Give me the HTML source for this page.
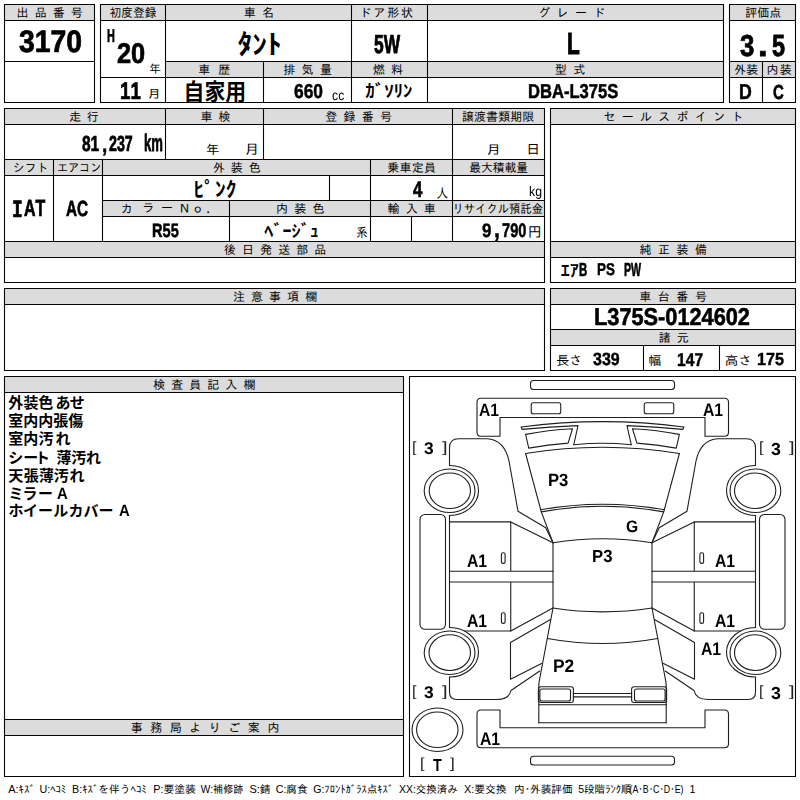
<!DOCTYPE html>
<html lang="ja"><head><meta charset="utf-8"><title>出品票 3170</title>
<style>
html,body{margin:0;padding:0;background:#fff}
body{width:800px;height:800px;position:relative;overflow:hidden;font-family:"Liberation Sans",sans-serif;color:#000}
#sheet{position:absolute;left:0;top:0;width:800px;height:800px}
#txt{position:absolute;left:0;top:0;width:800px;height:800px;will-change:transform}
.t{position:absolute;white-space:nowrap;text-rendering:geometricPrecision;line-height:1;transform-origin:0 0;font-kerning:none;letter-spacing:0;color:#000}
.b{font-weight:700;-webkit-text-stroke:0.024em #000}.ns{-webkit-text-stroke:0}.r{font-weight:400}.m{font-family:"Liberation Mono",monospace;font-weight:700;-webkit-text-stroke:0.024em #000}
#labels text{font-family:"Liberation Sans","IPAGothic","Noto Sans CJK JP",sans-serif;font-size:12px;fill:#000;font-kerning:none}
#labels text.nb{font-family:"Liberation Sans","Noto Sans CJK JP",sans-serif;font-weight:700}
#labels text.n15{font-size:15px}
#labels text.ft{font-size:10.66px}
</style></head><body>
<svg id="sheet" width="800" height="800" viewBox="0 0 800 800">
<g fill="#dcdcdc"><rect x="4.5" y="4.5" width="90" height="16"/><rect x="100.5" y="4.5" width="623" height="16"/><rect x="165.5" y="61.5" width="558" height="16"/><rect x="729.5" y="4.5" width="66" height="16"/><rect x="729.5" y="61.5" width="66" height="16"/><rect x="4.5" y="108.5" width="540" height="16"/><rect x="4.5" y="159.5" width="540" height="16"/><rect x="102.5" y="200.5" width="442" height="16"/><rect x="4.5" y="241.5" width="540" height="16"/><rect x="550.5" y="108.5" width="245" height="16"/><rect x="550.5" y="241.5" width="245" height="16"/><rect x="4.5" y="288.5" width="540" height="16"/><rect x="550.5" y="288.5" width="245" height="16"/><rect x="550.5" y="329.5" width="245" height="16"/><rect x="4.5" y="376.5" width="399" height="16"/><rect x="4.5" y="719.5" width="399" height="16"/></g>
<path fill="none" stroke="#060606" stroke-width="1.08" stroke-linecap="square" d="M4.5 4.5H94.5V102.5H4.5ZM4.5 20.5H94.5M4.5 61.5H94.5M100.5 4.5H723.5V102.5H100.5ZM100.5 20.5H723.5M100.5 77.5H723.5M165.5 61.5H723.5M165.5 4.5V102.5M351.5 4.5V102.5M427.5 4.5V102.5M263.5 61.5V102.5M729.5 4.5H795.5V102.5H729.5ZM729.5 20.5H795.5M729.5 61.5H795.5M729.5 77.5H795.5M762.5 61.5V102.5M4.5 108.5H544.5V282.5H4.5ZM4.5 124.5H544.5M4.5 159.5H544.5M4.5 175.5H544.5M4.5 241.5H544.5M4.5 257.5H544.5M102.5 200.5H544.5M102.5 216.5H544.5M165.5 108.5V159.5M263.5 108.5V159.5M452.5 108.5V241.5M53.5 159.5V241.5M102.5 159.5V241.5M370.5 159.5V241.5M329.5 175.5V200.5M229.5 200.5V241.5M411.5 216.5V241.5M550.5 108.5H795.5V282.5H550.5ZM550.5 124.5H795.5M550.5 241.5H795.5M550.5 257.5H795.5M4.5 288.5H544.5V370.5H4.5ZM4.5 304.5H544.5M550.5 288.5H795.5V370.5H550.5ZM550.5 304.5H795.5M550.5 329.5H795.5M550.5 345.5H795.5M643.5 345.5V370.5M719.5 345.5V370.5M4.5 376.5H403.5V776.5H4.5ZM4.5 392.5H403.5M4.5 719.5H403.5M4.5 735.5H403.5M409.5 376.5H795.5V776.5H409.5Z"/>
<g id="car" fill="none" stroke="#1e1e1e" stroke-width="1.1" stroke-linejoin="round" stroke-linecap="round">
<rect x="530.5" y="380.5" width="144" height="9" rx="3"/>
<rect x="530.5" y="756.25" width="144" height="8.75" rx="3"/>
<path d="M500 417.5H705V436.25H724.5Q728.5 436.25 728.5 432.25V402.25Q728.5 398.25 724.5 398.25H481Q477 398.25 477 402.25V432.25Q477 436.25 481 436.25H500Z"/>
<path d="M500 710V727.75H705V710H724.5Q728.5 710 728.5 714V743.75Q728.5 747.75 724.5 747.75H481Q477 747.75 477 743.75V714Q477 710 481 710Z"/>
<path d="M521.25 427Q602.5 416.2 683.75 427"/>
<path d="M573.75 444.75Q602.5 441.8 631.25 444.75"/>
<path d="M525.6 453.5Q602.5 440.9 679.4 453.5"/>
<path d="M540.5 509.8Q602.5 498.8 664.5 509.8"/>
<path d="M541.3 511.9Q602.5 500.7 663.7 511.9"/>
<path d="M553 542.8Q602.5 534.7 652 542.8V608Q602.5 615.7 553 608Z"/>
<path d="M547.25 638.5Q602.5 648.5 657.75 638.5"/>
<path d="M573.4 693.5H631.6M573.4 696.9H631.6"/>
<path d="M538.8 704.75H666.2M538.8 722.8H666.2"/>
<ellipse cx="437.5" cy="729.75" rx="25.5" ry="21.75"/><ellipse cx="437.3" cy="729.75" rx="20.75" ry="17.75"/>
<g id="half">
<rect x="531.25" y="402.75" width="29.5" height="11" rx="2"/>
<path d="M525.6 434.4Q548 430 572.5 428.75L568.1 443.1Q548 444.5 528.75 448.1Z"/>
<path d="M521.25 427L522 429.4Q550 426.6 578 425.6L573.75 444.75"/>
<path d="M525.6 453.5L541.3 511.9L553 542.8"/>
<path d="M449.5 465.5V447.75Q449.5 438.75 458.75 438.75H487C498 439.5 506 447 509 461L518 511.25L545.75 527.75L553 542.8"/>
<path d="M449.5 465.5A29 25 0 0 1 449.5 515.5"/><ellipse cx="449.6" cy="490.75" rx="25.4" ry="21.75"/><ellipse cx="449.85" cy="490.75" rx="20.65" ry="17.75"/>
<path d="M449.5 627.5A29 24.75 0 0 1 449.5 677"/><ellipse cx="449.6" cy="652.75" rx="25.4" ry="21.75"/><ellipse cx="449.75" cy="652.65" rx="20.75" ry="17.85"/>
<path d="M449.5 515.5V627.5"/>
<rect x="420" y="514.5" width="25.5" height="114.75" rx="5"/>
<path d="M449.5 521.9H510.75V571.25M449.5 571.25H553M449.5 582H553M510.75 582V631H464.6"/>
<path d="M510.75 521.9L553 542.8M510.75 631L553 608"/>
<path d="M553 608L547.25 638.5L539 682.5L538.8 686.6V722.8"/>
<path d="M550.5 619.5L510.5 642.5V679.25L541.5 663.5"/>
<path d="M449.5 677V692Q449.5 699.5 456.75 699.5H497Q509 699.5 511 690.5L539.75 671"/>
<rect x="538.4" y="686.75" width="35" height="15.75" rx="2.5"/><rect x="539.9" y="689" width="30.6" height="12" rx="2"/>
<rect x="501.4" y="552.8" width="3.7" height="10.6" rx="1.7"/><rect x="501.4" y="612.8" width="3.7" height="10.6" rx="1.7"/>
</g>
<use href="#half" transform="matrix(-1 0 0 1 1205 0)"/>
</g>

<g id="labels">
<text x="16.61 34.63 52.66 70.69" y="17.06">出品番号</text>
<text transform="translate(109.46 17.06) scale(0.983 1)">初度登録</text>
<text x="243.72 262.07" y="17.06">車名</text>
<text x="359.47 373.34 387.21 401.09" y="17.06">ドア形状</text>
<text x="538.24 556.56 574.88 593.2" y="17.06">グレード</text>
<text x="745.14 757.19 769.23" y="17.06">評価点</text>
<text x="198.22 218.22" y="73.96">車歴</text>
<text x="283.23 301.58 319.92" y="73.96">排気量</text>
<text x="373.07 391.03" y="73.96">燃料</text>
<text x="554.78 573.14" y="73.96">型式</text>
<text transform="translate(734.28 73.96) scale(0.993 1)">外装</text>
<text x="766.62 779.87" y="73.96">内装</text>
<text x="69.33 86.73" y="121.31">走行</text>
<text x="200.47 218.52" y="121.31">車検</text>
<text x="325.2 343.44 361.69 379.94" y="121.31">登録番号</text>
<text x="461.91 474 486.09 498.17 510.26 522.35" y="121.31">譲渡書類期限</text>
<text x="603.4 621.69 639.99 658.29 676.58 694.88 713.17 731.47" y="121.31">セールスポイント</text>
<text transform="translate(13.1 171.86) scale(0.982 1)">シフト</text>
<text transform="translate(56.89 171.86) scale(0.927 1)">エアコン</text>
<text x="213.02 230.87 248.72" y="171.86">外装色</text>
<text x="387.29 399.51 411.73 423.95" y="171.86">乗車定員</text>
<text transform="translate(469.29 171.86) scale(0.982 1)">最大積載量</text>
<text x="120.86 142.27 161 178.6 191.75 206.35" y="212.84 212.33 211.66 213.11 212.65 212.66">カラーＮｏ．</text>
<text x="276.12 294.29 312.47" y="212.86">内装色</text>
<text x="387.47 405.63 423.79" y="212.86">輸入車</text>
<text transform="translate(452.53 212.86) scale(0.943 1)">リサイクル預託金</text>
<text x="224.03 242.07 260.11 278.15 296.19 314.22" y="254.06">後日発送部品</text>
<text x="639.46 657.94 676.42 694.91" y="254.06">純正装備</text>
<text x="232.94 250.99 269.04 287.1 305.15" y="301.06">注意事項欄</text>
<text x="639.22 657.79 676.36 694.94" y="301.06">車台番号</text>
<text x="658.63 676.7" y="341.96">諸元</text>
<text x="153.15 171.2 189.25 207.3 225.35 243.4" y="389.06">検査員記入欄</text>
<text x="130.65 150.19 169.72 189.26 208.79 228.33 247.86 267.4" y="732.31">事務局よりご案内</text>
<text transform="translate(149.19 73.45) scale(1.012 1)" style="font-size:11.5px">年</text>
<text transform="translate(147.44 98.14) scale(1.143 1)" style="font-size:11.72px">月</text>
<text transform="translate(206.07 154.12) scale(1.059 1)" style="font-size:12.62px">年</text>
<text transform="translate(244.52 154.03) scale(1.127 1)" style="font-size:13.2px">月</text>
<text transform="translate(486.27 154.09) scale(1.208 1)" style="font-size:12.32px">月</text>
<text transform="translate(526.26 154.41) scale(1.042 1)" style="font-size:13.2px">日</text>
<text transform="translate(436.17 198.07) scale(0.904 1)" style="font-size:13.32px">人</text>
<text transform="translate(356.07 236.59) scale(0.897 1)" style="font-size:12.98px">系</text>
<text transform="translate(527.76 236.7) scale(0.983 1)" style="font-size:14.24px">円</text>
<text transform="translate(556.28 365.32) scale(1.003 1)" style="font-size:13px">長さ</text>
<text transform="translate(648.41 365.38) scale(1.018 1)" style="font-size:12.5px">幅</text>
<text transform="translate(724.73 365.38) scale(1.09 1)" style="font-size:12.5px">高さ</text>
<text class="nb" transform="translate(237.39 54.22) scale(1.1 1)" style="font-size:26.88px">ﾀﾝﾄ</text>
<text class="nb" transform="translate(183.57 99.96) scale(0.931 1)" style="font-size:22.38px">自家用</text>
<text class="nb" transform="translate(365.22 97.16) scale(1.111 1)" style="font-size:17.06px">ｶﾞｿﾘﾝ</text>
<text class="nb" transform="translate(193.6 196.61) scale(1.061 1)" style="font-size:20.24px">ﾋﾟﾝｸ</text>
<text class="nb" transform="translate(264.34 236.67) scale(1.102 1)" style="font-size:16.5px">ﾍﾞｰｼﾞｭ</text>
<text class="nb" transform="translate(560.69 275.89) scale(1.17 1)" style="font-size:15.44px">ｴｱ</text>
<text class="nb n15" x="8.21 23.4 38.15 55.39 69.76" y="408.4">外装色あせ</text>
<text class="nb n15" x="8.21 23.32 38.17 53.24 68.21" y="426.3">室内内張傷</text>
<text class="nb n15" x="8.21 23.32 38.43 55.38" y="444.1">室内汚れ</text>
<text class="nb n15" x="8.16 23.13 34.9 56.53 71.28 86" y="462.65">シート薄汚れ</text>
<text class="nb n15" x="8.21 23.64 39.03 53.78 69.38" y="480.5">天張薄汚れ</text>
<text class="nb n15" x="8.49 22.44 38.01" y="498.9">ミラー</text>
<text class="nb n15" x="8.38 23.07 38.01 53.26 68.51 83.39 98.38" y="516.2">ホイールカバー</text>
<text class="ft" x="8.2" y="793.2" textLength="26.7" lengthAdjust="spacingAndGlyphs">A:ｷｽﾞ</text>
<text class="ft" x="39.5" y="793.2" textLength="26.7" lengthAdjust="spacingAndGlyphs">U:ﾍｺﾐ</text>
<text class="ft" x="72" y="793.2" textLength="74.7" lengthAdjust="spacingAndGlyphs">B:ｷｽﾞを伴うﾍｺﾐ</text>
<text class="ft" x="153.2" y="793.2" textLength="42.7" lengthAdjust="spacingAndGlyphs">P:要塗装</text>
<text class="ft" x="200.7" y="793.2" textLength="42.7" lengthAdjust="spacingAndGlyphs">W:補修跡</text>
<text class="ft" x="249.5" y="793.2" textLength="21.3" lengthAdjust="spacingAndGlyphs">S:錆</text>
<text class="ft" x="275.7" y="793.2" textLength="32" lengthAdjust="spacingAndGlyphs">C:腐食</text>
<text class="ft" x="313.2" y="793.2" textLength="80" lengthAdjust="spacingAndGlyphs">G:ﾌﾛﾝﾄｶﾞﾗｽ点ｷｽﾞ</text>
<text class="ft" x="399" y="793.2" textLength="58.7" lengthAdjust="spacingAndGlyphs">XX:交換済み</text>
<text class="ft" x="464" y="793.2" textLength="42.7" lengthAdjust="spacingAndGlyphs">X:要交換</text>
<text class="ft" x="514" y="793.2" textLength="58.7" lengthAdjust="spacingAndGlyphs">内･外装評価</text>
<text class="ft" x="578.2" y="793.2" textLength="53.3" lengthAdjust="spacingAndGlyphs">5段階ﾗﾝｸ順</text>
<text class="ft" x="629.5" y="793.2" textLength="54" lengthAdjust="spacingAndGlyphs">(A･B･C･D･E)</text>
<text class="ft" x="689.5" y="793.2">1</text>
</g>
</svg>
<div id="txt">
<div class="t b" style="left:18.76px;top:26.06px;font-size:31.05px;transform:scaleX(0.913)">3170</div>
<div class="t b" style="left:107.48px;top:27.28px;font-size:18.56px;transform:scaleX(0.588);-webkit-text-stroke-width:0.034em">H</div>
<div class="t b" style="left:116.83px;top:40.27px;font-size:28.62px;transform:scaleX(0.887)">20</div>
<div class="t b" style="left:120.25px;top:79.87px;font-size:23.83px;transform:scaleX(0.784);-webkit-text-stroke-width:0.027em">11</div>
<div class="t b" style="left:374.44px;top:31.45px;font-size:26.02px;transform:scaleX(0.666);-webkit-text-stroke-width:0.033em">5W</div>
<div class="t b" style="left:567px;top:29.14px;font-size:30.51px;transform:scaleX(0.685);-webkit-text-stroke-width:0.032em">L</div>
<div class="t b" style="left:739.71px;top:30.94px;font-size:30.39px;transform:scaleX(0.852)">3</div>
<div class="t b" style="left:758.41px;top:29.47px;font-size:32.56px;transform:scaleX(1.072)">.</div>
<div class="t b" style="left:771.96px;top:30.71px;font-size:30.71px;transform:scaleX(0.764);-webkit-text-stroke-width:0.028em">5</div>
<div class="t b" style="left:293.5px;top:82.48px;font-size:20.07px;transform:scaleX(0.867)">660</div>
<div class="t r" style="left:331.56px;top:88.53px;font-size:13.75px;transform:scaleX(0.892)">cc</div>
<div class="t b" style="left:528px;top:82.44px;font-size:20.14px;transform:scaleX(0.823);-webkit-text-stroke-width:0.025em">DBA-L375S</div>
<div class="t b" style="left:739.43px;top:81.38px;font-size:21.57px;transform:scaleX(0.819);-webkit-text-stroke-width:0.026em">D</div>
<div class="t b" style="left:773.04px;top:82.68px;font-size:20.39px;transform:scaleX(0.732);-webkit-text-stroke-width:0.03em">C</div>
<div class="t b" style="left:81.53px;top:132.9px;font-size:21.71px;transform:scaleX(0.714);-webkit-text-stroke-width:0.031em">81</div>
<div class="t b" style="left:101.57px;top:134.93px;font-size:21.24px;transform:scaleX(0.885)">,</div>
<div class="t b" style="left:109.11px;top:133.07px;font-size:21.85px;transform:scaleX(0.652);-webkit-text-stroke-width:0.034em">237</div>
<div class="t b" style="left:144.37px;top:131.73px;font-size:23.92px;transform:scaleX(0.547);-webkit-text-stroke-width:0.034em">km</div>
<div class="t m" style="left:12.23px;top:199.29px;font-size:24.7px;transform:scaleX(0.727);-webkit-text-stroke-width:0.03em">I</div>
<div class="t b" style="left:23.54px;top:197.34px;font-size:23.32px;transform:scaleX(0.684);-webkit-text-stroke-width:0.032em">AT</div>
<div class="t b" style="left:66.39px;top:198.27px;font-size:21.9px;transform:scaleX(0.698);-webkit-text-stroke-width:0.032em">AC</div>
<div class="t b" style="left:413.24px;top:178.58px;font-size:22.53px;transform:scaleX(0.749);-webkit-text-stroke-width:0.029em">4</div>
<div class="t r" style="left:528.7px;top:184.9px;font-size:13.95px;transform:scaleX(0.884)">kg</div>
<div class="t b" style="left:151.56px;top:222.12px;font-size:19.18px;transform:scaleX(0.76);-webkit-text-stroke-width:0.029em">R55</div>
<div class="t b" style="left:482.01px;top:221.71px;font-size:19.49px;transform:scaleX(0.874)">9</div>
<div class="t b" style="left:493.82px;top:218.36px;font-size:23.51px;transform:scaleX(0.895)">,</div>
<div class="t b" style="left:501.97px;top:221.71px;font-size:19.49px;transform:scaleX(0.751);-webkit-text-stroke-width:0.029em">790</div>
<div class="t b" style="left:578.52px;top:261.89px;font-size:18.96px;transform:scaleX(0.604);-webkit-text-stroke-width:0.034em">B</div>
<div class="t b" style="left:597.45px;top:261.46px;font-size:16.98px;transform:scaleX(0.793);-webkit-text-stroke-width:0.027em">PS</div>
<div class="t b" style="left:623.7px;top:261.44px;font-size:18.98px;transform:scaleX(0.562);-webkit-text-stroke-width:0.034em">PW</div>
<div class="t b" style="left:594.28px;top:306.43px;font-size:24.19px;transform:scaleX(0.899)">L375S-0124602</div>
<div class="t b" style="left:593.18px;top:351.12px;font-size:17.72px;transform:scaleX(0.904)">339</div>
<div class="t b" style="left:677.43px;top:351.29px;font-size:18.72px;transform:scaleX(0.836);-webkit-text-stroke-width:0.025em">147</div>
<div class="t b" style="left:756.77px;top:351.06px;font-size:17.62px;transform:scaleX(0.918)">175</div>
<div class="t b ns" style="left:56.51px;top:485.97px;font-size:16.51px;transform:scaleX(0.899)">A</div>
<div class="t b ns" style="left:119.03px;top:502.97px;font-size:16.51px;transform:scaleX(0.899)">A</div>
<div class="t b ns" style="left:478.85px;top:401.46px;font-size:17.99px;transform:scaleX(0.867)">A1</div>
<div class="t b ns" style="left:703.16px;top:401.26px;font-size:18.24px;transform:scaleX(0.863)">A1</div>
<div class="t b ns" style="left:466.54px;top:551.97px;font-size:18.16px;transform:scaleX(0.867)">A1</div>
<div class="t b ns" style="left:714.54px;top:551.97px;font-size:18.16px;transform:scaleX(0.867)">A1</div>
<div class="t b ns" style="left:466.78px;top:612.22px;font-size:18.16px;transform:scaleX(0.867)">A1</div>
<div class="t b ns" style="left:714.78px;top:612.22px;font-size:18.16px;transform:scaleX(0.867)">A1</div>
<div class="t b ns" style="left:701.39px;top:640.19px;font-size:18.19px;transform:scaleX(0.866)">A1</div>
<div class="t b ns" style="left:479.78px;top:730.22px;font-size:18.16px;transform:scaleX(0.867)">A1</div>
<div class="t b ns" style="left:547.82px;top:471.69px;font-size:17.69px;transform:scaleX(0.943)">P3</div>
<div class="t b ns" style="left:592.22px;top:548.29px;font-size:17.58px;transform:scaleX(0.95)">P3</div>
<div class="t b ns" style="left:552.99px;top:657.16px;font-size:18.05px;transform:scaleX(0.966)">P2</div>
<div class="t b ns" style="left:626.15px;top:519.27px;font-size:16.52px;transform:scaleX(0.948)">G</div>
<div class="t r" style="left:411.78px;top:440.61px;font-size:14.83px;transform:scaleX(1.082);color:#222">[</div>
<div class="t b ns" style="left:423.83px;top:441.45px;font-size:16.84px;transform:scaleX(1.033)">3</div>
<div class="t r" style="left:442.48px;top:440.61px;font-size:14.7px;transform:scaleX(1.375);color:#222">]</div>
<div class="t r" style="left:758.52px;top:440.61px;font-size:14.83px;transform:scaleX(1.082);color:#222">[</div>
<div class="t b ns" style="left:770.56px;top:440.6px;font-size:17.47px;transform:scaleX(1.02)">3</div>
<div class="t r" style="left:789.28px;top:440.68px;font-size:14.77px;transform:scaleX(1.369);color:#222">]</div>
<div class="t r" style="left:411.78px;top:684.61px;font-size:14.83px;transform:scaleX(1.082);color:#222">[</div>
<div class="t b ns" style="left:423.83px;top:685.45px;font-size:16.84px;transform:scaleX(1.033)">3</div>
<div class="t r" style="left:442.48px;top:684.61px;font-size:14.7px;transform:scaleX(1.375);color:#222">]</div>
<div class="t r" style="left:758.52px;top:684.61px;font-size:14.83px;transform:scaleX(1.082);color:#222">[</div>
<div class="t b ns" style="left:770.56px;top:684.6px;font-size:17.47px;transform:scaleX(1.02)">3</div>
<div class="t r" style="left:789.28px;top:684.68px;font-size:14.77px;transform:scaleX(1.369);color:#222">]</div>
<div class="t r" style="left:419.63px;top:757.47px;font-size:14.68px;transform:scaleX(1.113);color:#222">[</div>
<div class="t b ns" style="left:433.41px;top:757.14px;font-size:17.43px;transform:scaleX(0.826)">T</div>
<div class="t r" style="left:450.37px;top:757.49px;font-size:14.63px;transform:scaleX(1.174);color:#222">]</div>
</div>
</body></html>
